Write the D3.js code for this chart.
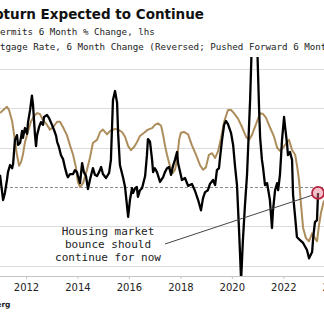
<!DOCTYPE html>
<html>
<head>
<meta charset="utf-8">
<script src="https://cdn.jsdelivr.net/npm/d3@7"></script>
<style>
  html, body { margin: 0; padding: 0; background: #fff; }
  svg { display: block; }
</style>
</head>
<body>
<div id="chart"></div>
<script>
// building permits, 6 month % change (lhs)
const permitsYear = [
  2010.99, 2011.11, 2011.18, 2011.26, 2011.30, 2011.38, 2011.46, 2011.50, 2011.57, 2011.65,
  2011.69, 2011.77, 2011.85, 2011.88, 2011.96, 2012.04, 2012.08, 2012.16, 2012.23, 2012.27,
  2012.35, 2012.39, 2012.43, 2012.51, 2012.58, 2012.66, 2012.70, 2012.82, 2012.89, 2013.01,
  2013.09, 2013.17, 2013.21, 2013.28, 2013.36, 2013.44, 2013.52, 2013.59, 2013.63, 2013.71,
  2013.83, 2013.90, 2013.98, 2014.02, 2014.10, 2014.18, 2014.25, 2014.33, 2014.41, 2014.49,
  2014.60, 2014.68, 2014.76, 2014.84, 2014.92, 2014.99, 2015.11, 2015.23, 2015.30, 2015.38,
  2015.46, 2015.54, 2015.58, 2015.65, 2015.77, 2015.85, 2015.97, 2016.04, 2016.12, 2016.16,
  2016.24, 2016.31, 2016.35, 2016.43, 2016.51, 2016.63, 2016.70, 2016.74, 2016.82, 2016.90,
  2016.94, 2017.01, 2017.09, 2017.21, 2017.33, 2017.40, 2017.48, 2017.56, 2017.64, 2017.71,
  2017.79, 2017.87, 2017.91, 2017.99, 2018.06, 2018.18, 2018.30, 2018.45, 2018.57, 2018.69,
  2018.80, 2018.88, 2018.96, 2019.07, 2019.15, 2019.27, 2019.35, 2019.42, 2019.50, 2019.54,
  2019.62, 2019.70, 2019.77, 2019.85, 2019.97, 2020.05, 2020.12, 2020.20, 2020.28, 2020.36,
  2020.43, 2020.51, 2020.59, 2020.63, 2020.71, 2020.78, 2020.88, 2020.98, 2021.06, 2021.10,
  2021.17, 2021.21, 2021.29, 2021.37, 2021.48, 2021.56, 2021.60, 2021.68, 2021.76, 2021.80,
  2021.87, 2021.95, 2022.03, 2022.07, 2022.15, 2022.18, 2022.26, 2022.34, 2022.38, 2022.46,
  2022.53, 2022.65, 2022.77, 2022.92, 2023.00, 2023.12, 2023.16, 2023.23, 2023.31, 2023.35
];
const permitsChg = [
  3.1, -3.3, -1.5, 1.8, 3.8, 5.6, 4.8, 5.9, 12.0, 13.2,
  10.7, 11.2, 14.3, 12.5, 15.0, 13.5, 16.5, 19.6, 23.2, 21.1,
  13.2, 10.4, 13.2, 15.3, 16.5, 15.8, 17.8, 18.3, 17.6, 15.8,
  14.5, 13.0, 11.5, 10.2, 8.1, 7.1, 4.8, 3.1, 2.5, 3.3,
  3.3, 4.3, 3.8, 2.8, 1.0, 6.1, 3.8, 2.8, -0.5, 2.0,
  4.8, 3.1, 2.8, 3.8, 5.1, 3.3, 2.3, 3.6, 6.9, 22.1,
  24.4, 21.4, 13.7, 5.6, 2.5, 0.0, -7.6, -3.3, -0.3, -1.5,
  -0.3, 0.0, -2.5, -0.8, -0.3, 2.8, 8.1, 12.2, 11.5, 6.9,
  3.8, 4.8, 3.8, 1.3, 2.5, 3.8, 4.8, 5.1, 3.1, 5.3,
  6.9, 8.9, 6.1, 3.8, 1.8, 2.3, 0.3, 0.8, -1.0, -3.3,
  -5.9, -2.8, -1.3, -0.8, 0.8, 1.8, 0.5, 4.3, 4.8, 7.4,
  12.0, 15.8, 16.8, 16.0, 13.7, 10.7, 5.6, 0.5, -10.9, -23.7,
  -13.5, -4.6, 3.1, 9.4, 22.1, 37.4, 36.1, 37.4, 19.6, 12.5,
  6.9, 5.1, 0.5, 1.0, -3.3, -10.4, -5.9, -0.8, 1.0, -0.8,
  3.1, 12.0, 17.8, 15.3, 10.7, 8.1, 8.9, 6.9, -2.0, -7.6,
  -12.7, -13.5, -14.2, -16.0, -18.1, -16.5, -13.0, -8.9, -8.4, -1.5
];

// 30y mortgage rate, 6 month change, pushed forward 6 months (rhs, reversed)
const mortgageYear = [
  2010.99, 2011.15, 2011.26, 2011.34, 2011.46, 2011.57, 2011.65, 2011.73, 2011.81, 2011.88,
  2011.96, 2012.08, 2012.19, 2012.31, 2012.43, 2012.54, 2012.66, 2012.82, 2012.93, 2013.05,
  2013.21, 2013.32, 2013.44, 2013.59, 2013.71, 2013.83, 2013.94, 2014.02, 2014.10, 2014.22,
  2014.37, 2014.49, 2014.60, 2014.76, 2014.88, 2014.99, 2015.15, 2015.26, 2015.46, 2015.58,
  2015.73, 2015.85, 2015.97, 2016.08, 2016.20, 2016.31, 2016.43, 2016.59, 2016.74, 2016.90,
  2017.01, 2017.13, 2017.25, 2017.33, 2017.40, 2017.48, 2017.56, 2017.64, 2017.71, 2017.79,
  2017.87, 2017.95, 2018.02, 2018.14, 2018.30, 2018.45, 2018.61, 2018.76, 2018.88, 2018.99,
  2019.11, 2019.23, 2019.35, 2019.46, 2019.58, 2019.70, 2019.85, 2019.97, 2020.08, 2020.24,
  2020.40, 2020.55, 2020.67, 2020.78, 2020.94, 2021.10, 2021.21, 2021.33, 2021.48, 2021.64,
  2021.76, 2021.87, 2021.99, 2022.10, 2022.22, 2022.34, 2022.46, 2022.53, 2022.61, 2022.69,
  2022.77, 2022.88, 2023.00, 2023.12, 2023.23, 2023.31, 2023.39, 2023.47, 2023.58
];
const mortgageChg = [
  -0.94, -0.99, -1.02, -0.98, -0.84, -0.59, -0.41, -0.27, -0.32, -0.41,
  -0.57, -0.71, -0.83, -0.90, -0.94, -0.93, -0.85, -0.79, -0.73, -0.76,
  -0.83, -0.83, -0.76, -0.66, -0.53, -0.41, -0.25, -0.06, 0.00, -0.05,
  -0.22, -0.38, -0.56, -0.60, -0.70, -0.73, -0.67, -0.71, -0.74, -0.73,
  -0.70, -0.64, -0.52, -0.47, -0.51, -0.57, -0.65, -0.69, -0.73, -0.75,
  -0.79, -0.81, -0.78, -0.66, -0.53, -0.41, -0.31, -0.22, -0.18, -0.22,
  -0.34, -0.60, -0.69, -0.70, -0.67, -0.53, -0.41, -0.28, -0.22, -0.25,
  -0.41, -0.43, -0.37, -0.45, -0.62, -0.83, -0.98, -0.98, -0.94, -0.87,
  -0.76, -0.64, -0.60, -0.66, -0.80, -0.94, -0.93, -0.88, -0.76, -0.64,
  -0.50, -0.46, -0.50, -0.55, -0.60, -0.47, -0.41, -0.28, -0.09, 0.23,
  0.52, 0.65, 0.69, 0.59, 0.65, 0.69, 0.48, 0.32, 0.17
];

const yearTicks = [2012, 2014, 2016, 2018, 2020, 2022, 2024];
const leftGrid = [30, 20, 10, 0, -10, -20];

const titleText = 'Upturn Expected to Continue';
const legendLines = [
  'Building Permits 6 Month % Change, lhs',
  'Mortgage Rate, 6 Month Change (Reversed; Pushed Forward 6 Months), rhs'
];
const noteLines = ['Housing market', 'bounce should', 'continue for now'];

const W = 324, H = 327;
const plot = {top: 57, bottom: 276};
const mono = '"DejaVu Sans Mono", monospace';
const sans = '"DejaVu Sans", Verdana, sans-serif';

const svg = d3.select('#chart').append('svg')
  .attr('width', W)
  .attr('height', H);

const x = d3.scaleLinear().domain([2012, 2022]).range([26, 283.3]);
const yL = d3.scaleLinear().domain([-22.6, 33.05]).range([plot.bottom, plot.top]);
// reversed: rising rates plot downwards
const yR = d3.scaleLinear().domain([-1.654, 1.132]).range([plot.top, plot.bottom]);

svg.append('defs').append('clipPath')
  .attr('id', 'plot-clip')
  .append('rect')
  .attr('x', -50).attr('y', plot.top)
  .attr('width', W + 100).attr('height', plot.bottom - plot.top);

// titles
svg.append('text')
  .attr('x', 204).attr('y', 19)
  .attr('text-anchor', 'end')
  .style('font', 'bold 13.5px ' + sans)
  .attr('fill', '#111')
  .text(titleText);

svg.selectAll('.legend')
  .data(legendLines)
  .enter().append('text')
  .attr('class', 'legend')
  .attr('x', (d, i) => i === 0 ? -55.4 : -16.6)
  .attr('y', (d, i) => 35 + i * 15)
  .style('font', '9.2px ' + mono)
  .attr('fill', '#222')
  .text(d => d);

// gridlines
svg.append('g')
  .selectAll('line')
  .data(leftGrid)
  .enter().append('line')
  .attr('x1', 0).attr('x2', W)
  .attr('y1', d => Math.round(yL(d)) + 0.5)
  .attr('y2', d => Math.round(yL(d)) + 0.5)
  .attr('stroke', d => d === 0 ? '#8a8a8a' : '#dcdcdc')
  .attr('stroke-dasharray', d => d === 0 ? '3,2' : null)
  .attr('stroke-width', 1);

// x axis
const xAxis = svg.append('g')
  .attr('transform', 'translate(0,' + plot.bottom + ')')
  .call(d3.axisBottom(x)
    .tickValues(yearTicks)
    .tickFormat(d3.format('d'))
    .tickSize(3)
    .tickPadding(5));

xAxis.select('.domain')
  .attr('d', 'M0,0.5H' + W)
  .attr('stroke', '#c4c4c4');
xAxis.selectAll('.tick line').attr('stroke', '#c4c4c4');
xAxis.selectAll('.tick text')
  .attr('fill', '#222')
  .style('font', '10px ' + sans);

const lines = svg.append('g').attr('clip-path', 'url(#plot-clip)');

const mortgageLine = d3.line()
  .x((d, i) => x(mortgageYear[i]))
  .y(d => yR(d));

const permitsLine = d3.line()
  .x((d, i) => x(permitsYear[i]))
  .y(d => yL(d));

lines.append('path')
  .datum(mortgageChg)
  .attr('d', mortgageLine)
  .attr('fill', 'none')
  .attr('stroke', '#ad8d5c')
  .attr('stroke-width', 2)
  .attr('stroke-linejoin', 'round');

lines.append('path')
  .datum(permitsChg)
  .attr('d', permitsLine)
  .attr('fill', 'none')
  .attr('stroke', '#000')
  .attr('stroke-width', 2.3)
  .attr('stroke-linejoin', 'round');

// latest reading highlight
const last = permitsChg.length - 1;
const cx = x(permitsYear[last]);
const cy = yL(permitsChg[last]);

svg.append('line')
  .attr('x1', 165).attr('y1', 244)
  .attr('x2', cx - 5).attr('y2', cy + 2)
  .attr('stroke', '#444')
  .attr('stroke-width', 1);

svg.append('circle')
  .attr('cx', cx).attr('cy', cy)
  .attr('r', 6)
  .attr('fill', 'rgba(230,120,140,0.45)')
  .attr('stroke', '#b8233f')
  .attr('stroke-width', 1.8);

svg.selectAll('.note')
  .data(noteLines)
  .enter().append('text')
  .attr('class', 'note')
  .attr('x', 108)
  .attr('y', (d, i) => 235 + i * 13)
  .attr('text-anchor', 'middle')
  .style('font', '11px ' + mono)
  .attr('fill', '#222')
  .text(d => d);

svg.append('text')
  .attr('x', 10.5).attr('y', 307)
  .attr('text-anchor', 'end')
  .style('font', 'bold 7.5px ' + sans)
  .attr('fill', '#222')
  .text('Source: Bloomberg');
</script>
</body>
</html>
